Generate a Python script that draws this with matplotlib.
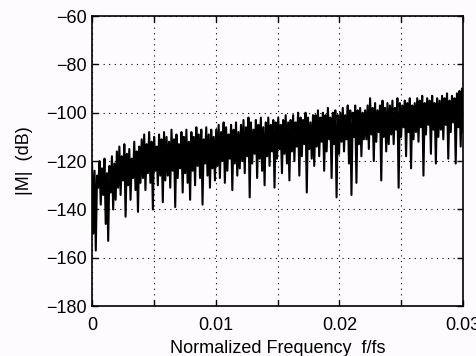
import numpy as np
import matplotlib
matplotlib.use("Agg")
import matplotlib.pyplot as plt

# magnitude spectrum (dB), 300 bins over 0..0.03
mag_db = [
    -121, -150, -124, -157, -126, -131, -120, -138, -123, -134, -119, -146, -125, -153, -122, -133, -118, -140, -121, -136,
    -116, -131, -114, -134, -118, -128, -113, -143, -117, -130, -115, -136, -119, -127, -112, -132, -116, -141, -114, -129,
    -111, -127, -109, -132, -113, -125, -108, -129, -112, -140, -110, -124, -114, -130, -109, -126, -111, -137, -108, -128,
    -110, -126, -112, -131, -107, -124, -111, -139, -109, -127, -113, -123, -108, -133, -110, -125, -107, -129, -112, -136,
    -108, -124, -110, -130, -106, -122, -109, -127, -107, -138, -111, -121, -106, -126, -109, -131, -107, -123, -110, -128,
    -107, -122, -105, -127, -108, -120, -104, -129, -106, -124, -109, -119, -105, -132, -107, -121, -104, -126, -108, -123,
    -105, -120, -103, -125, -106, -118, -102, -135, -104, -121, -107, -117, -103, -127, -105, -119, -102, -124, -106, -130,
    -104, -118, -102, -122, -105, -116, -103, -131, -104, -119, -102, -115, -105, -125, -103, -117, -101, -121, -104, -128,
    -103, -116, -101, -120, -104, -114, -100, -126, -102, -118, -103, -113, -100, -133, -102, -115, -104, -119, -101, -122,
    -101, -114, -99, -118, -102, -112, -100, -124, -101, -116, -98, -111, -102, -127, -100, -113, -99, -135, -101, -117,
    -100, -112, -98, -116, -101, -111, -97, -121, -99, -134, -100, -110, -97, -129, -99, -113, -98, -118, -100, -111,
    -99, -111, -97, -115, -94, -109, -98, -120, -96, -112, -99, -108, -97, -128, -95, -110, -98, -116, -96, -113,
    -97, -109, -95, -113, -98, -107, -94, -131, -96, -110, -97, -106, -95, -118, -96, -108, -94, -123, -97, -111,
    -96, -108, -94, -112, -95, -106, -93, -126, -96, -109, -94, -105, -95, -117, -93, -107, -96, -121, -94, -110,
    -95, -107, -93, -111, -94, -105, -92, -119, -95, -108, -93, -104, -94, -121, -92, -106, -91, -114, -90, -108,
]
f_max = 0.03
xtick_vals = [0, 0.005, 0.01, 0.015, 0.02, 0.025, 0.03]
xtick_labels = ['0', '', '0.01', '', '0.02', '', '0.03']
ytick_vals = [-180, -160, -140, -120, -100, -80, -60]

freq = np.arange(len(mag_db)) * f_max / (len(mag_db) - 1)

plt.rcParams['font.family'] = ['Liberation Sans', 'DejaVu Sans']
fig = plt.figure(figsize=(4.77, 3.56), dpi=100, facecolor='#fdfbfd')
ax = fig.add_axes([0.193, 0.140, 0.778, 0.815])
ax.set_facecolor('#fdfbfd')

ax.plot(freq, mag_db, color='black', linewidth=1.5)

ax.set_xlim(0, f_max)
ax.set_ylim(-180, -60)
ax.set_xticks(xtick_vals)
ax.set_xticklabels(xtick_labels)
ax.set_yticks(ytick_vals)
ax.tick_params(direction='in', top=True, right=True, labelsize=13, length=4, width=1)
ax.tick_params(axis='x', pad=8)
ax.tick_params(axis='y', pad=4)
ax.grid(True, color='black', linestyle=(0, (1, 4)), linewidth=0.8)
for s in ax.spines.values():
    s.set_linewidth(1.2)

ax.set_xlabel('Normalized Frequency  f/fs', fontsize=13, labelpad=4)
ax.set_ylabel('|M|  (dB)', fontsize=13, labelpad=9)

fig.savefig('out.png', dpi=100, facecolor=fig.get_facecolor())
